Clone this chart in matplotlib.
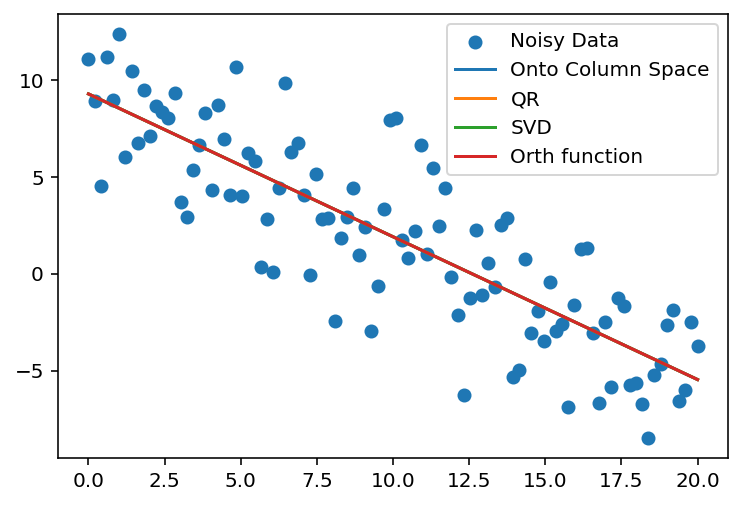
import numpy as np
import matplotlib
matplotlib.use("Agg")
import matplotlib.pyplot as plt

x = np.linspace(0, 20, 100)
y = np.array([
    11.09, 8.91, 4.52, 11.19, 8.97, 12.38, 6.02, 10.47, 6.74, 9.48,
    7.10, 8.65, 8.37, 8.03, 9.33, 3.69, 2.96, 5.34, 6.64, 8.29,
    4.31, 8.71, 6.95, 4.05, 10.67, 4.00, 6.22, 5.81, 0.33, 2.81,
    0.12, 4.41, 9.84, 6.28, 6.74, 4.05, -0.04, 5.14, 2.81, 2.91,
    -2.42, 1.83, 2.96, 4.46, 0.95, 2.40, -2.93, -0.61, 3.33, 7.93,
    8.06, 1.77, 0.84, 2.19, 6.64, 1.00, 5.45, 2.45, 4.41, -0.14,
    -2.11, -6.24, -1.23, 2.29, -1.07, 0.58, -0.66, 2.50, 2.91, -5.31,
    -4.95, 0.79, -3.04, -1.92, -3.45, -0.40, -2.93, -2.57, -6.86, -1.59,
    1.26, 1.31, -3.04, -6.66, -2.47, -5.86, -1.23, -1.64, -5.73, -5.62,
    -6.71, -8.47, -5.21, -4.64, -2.62, -1.85, -6.55, -5.99, -2.47, -3.71,
])

A = np.column_stack([np.ones_like(x), x])

# Projection onto column space
P = A @ np.linalg.inv(A.T @ A) @ A.T
y_proj = P @ y
# QR
Q, R = np.linalg.qr(A)
y_qr = Q @ (Q.T @ y)
# SVD
U, S, Vt = np.linalg.svd(A, full_matrices=False)
y_svd = U @ (U.T @ y)
# Orth function (orthonormal basis via SVD)
y_orth = U @ (U.T @ y)

fig = plt.figure(figsize=(741 / 144, 505 / 144), dpi=144)
ax = fig.add_axes([58 / 741, 1 - 458 / 505, (728 - 58) / 741, (458 - 14) / 505])
ax.scatter(x, y, label="Noisy Data")
ax.plot(x, y_proj, label="Onto Column Space")
ax.plot(x, y_qr, label="QR")
ax.plot(x, y_svd, label="SVD")
ax.plot(x, y_orth, label="Orth function")
ax.legend(loc="upper right")
fig.savefig("out.png", dpi=144)
